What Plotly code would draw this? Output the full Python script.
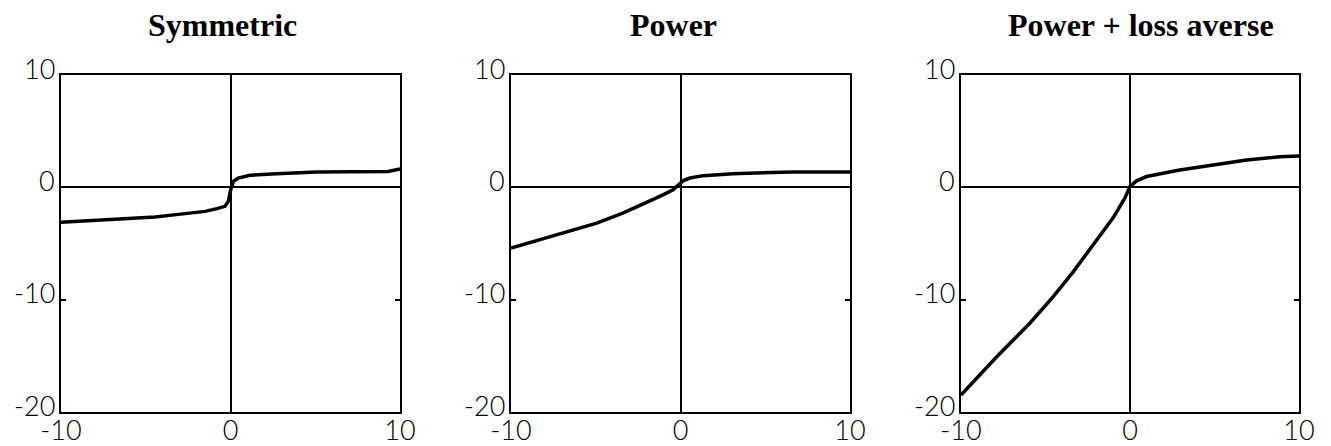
import plotly.graph_objects as go

# ---- data ----
titles = ["Symmetric", "Power", "Power + loss averse"]

sym_x = [-10, -8.3, -6.1, -4.45, -3.2, -2.1, -1.5, -0.8, -0.33, -0.13, 0.0, 0.17, 0.46, 1.15, 2.7, 5.1, 9.3, 10]
sym_y = [-3.1, -2.97, -2.82, -2.64, -2.43, -2.28, -2.14, -1.9, -1.69, -1.25, -0.3, 0.53, 0.83, 1.07, 1.22, 1.36, 1.42, 1.63]

pow_x = [-10, -8.7, -6.9, -4.94, -3.37, -1.8, -1.0, -0.42, -0.1, 0.17, 0.56, 1.34, 3.1, 6.64, 10]
pow_y = [-5.4, -4.81, -4.07, -3.18, -2.28, -1.25, -0.65, -0.2, 0.24, 0.6, 0.83, 1.04, 1.22, 1.36, 1.36]

pla_x = [-10, -9.1, -7.9, -5.9, -4.53, -3.35, -2.17, -0.99, -0.3, 0, 0.39, 0.98, 2.95, 4.92, 6.9, 8.87, 10]
pla_y = [-18.5, -17.0, -15.1, -12.05, -9.7, -7.5, -5.03, -2.69, -0.94, 0.09, 0.58, 0.96, 1.55, 1.99, 2.43, 2.72, 2.8]

x_ticks = [-10, 0, 10]
y_ticks = [-20, -10, 0, 10]
x_range = [-10, 10]
y_range = [-20, 10]

series = [(sym_x, sym_y), (pow_x, pow_y), (pla_x, pla_y)]

W, H = 1331, 446
OFF = 8  # page body margin offset of the plot div

def px_x(p):
    return (p - OFF) / W

def px_y(p):
    return 1 - (p - OFF) / H

x_domains = [(px_x(61), px_x(400)), (px_x(511), px_x(850)), (px_x(961), px_x(1299))]
y_domain = (px_y(412), px_y(75))
title_centers = [222, 673, 1141]

tick_font = dict(family="Lato, Liberation Sans, sans-serif", size=27, color="black", weight=300)

fig = go.Figure()
for i, ((xs, ys), title) in enumerate(zip(series, titles)):
    sfx = "" if i == 0 else str(i + 1)
    fig.add_trace(go.Scatter(
        x=xs, y=ys, mode="lines",
        line=dict(color="black", width=3.5),
        xaxis="x" + sfx, yaxis="y" + sfx, showlegend=False, hoverinfo="skip",
    ))
    axis_common = dict(
        showline=True, linecolor="black", linewidth=2, mirror="ticks",
        ticks="inside", ticklen=5, tickwidth=1.5, tickcolor="black",
        showgrid=False, zeroline=True, zerolinecolor="black", zerolinewidth=1.5,
        tickfont=tick_font, fixedrange=True, automargin=False,
    )
    fig.layout["xaxis" + sfx] = dict(
        axis_common, domain=list(x_domains[i]), range=x_range,
        tickvals=x_ticks, ticktext=[str(v) for v in x_ticks],
        anchor="y" + sfx, ticklabelstandoff=-6,
    )
    fig.layout["yaxis" + sfx] = dict(
        axis_common, domain=list(y_domain), range=y_range,
        tickvals=y_ticks, showticklabels=False,
        anchor="x" + sfx,
    )
    # y tick labels, placed on the axis scale, sitting slightly above each tick
    for v in y_ticks:
        fig.add_annotation(
            text=str(v), xref="paper", yref="y" + sfx,
            x=x_domains[i][0], y=v, xanchor="right", yanchor="middle",
            xshift=-4, yshift=7, showarrow=False, font=tick_font,
        )
    fig.add_annotation(
        text="<b>" + title + "</b>", xref="paper", yref="paper",
        x=px_x(title_centers[i]), y=px_y(25),
        xanchor="center", yanchor="middle", showarrow=False,
        font=dict(family="Liberation Serif, Times New Roman, serif", size=32, color="black"),
    )

fig.update_layout(
    width=W, height=H,
    margin=dict(l=0, r=0, t=0, b=0),
    paper_bgcolor="white", plot_bgcolor="white",
)

fig.write_html("out.html")
